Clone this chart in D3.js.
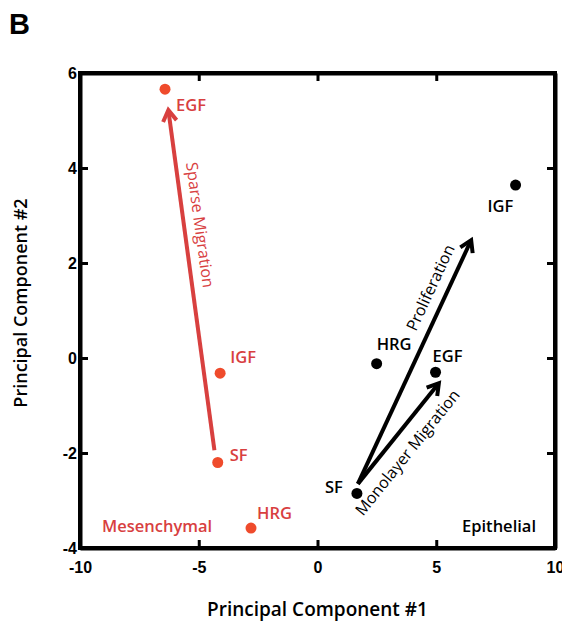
<!DOCTYPE html>
<html>
<head>
<meta charset="utf-8">
<script src="https://cdn.jsdelivr.net/npm/d3@7"></script>
<style>
  html, body { margin: 0; padding: 0; background: #fff; }
  svg { display: block; }
</style>
</head>
<body>
<svg id="chart" width="562" height="621"></svg>
<script>
// Mesenchymal cell line responses (principal component scores)
const mesLabels = ["EGF", "IGF", "SF", "HRG"];
const mesPC1 = [-6.42, -4.1, -4.2, -2.8];
const mesPC2 = [5.66, -0.32, -2.2, -3.58];

// Epithelial cell line responses
const epiLabels = ["SF", "HRG", "EGF", "IGF"];
const epiPC1 = [1.66, 2.49, 4.97, 8.34];
const epiPC2 = [-2.85, -0.12, -0.3, 3.64];

// Phenotype direction arrows: [start PC1, start PC2] -> [end PC1, end PC2]
const arrowNames = ["Sparse Migration", "Proliferation", "Monolayer Migration"];
const arrowStartPC1 = [-4.34, 1.7, 1.7];
const arrowStartPC2 = [-1.94, -2.65, -2.65];
const arrowEndPC1 = [-6.28, 6.47, 5.11];
const arrowEndPC2 = [5.22, 2.48, -0.53];

// Axis ticks
const xTicks = [-10, -5, 0, 5, 10];
const yTicks = [-4, -2, 0, 2, 4, 6];

const RED_DOT = "#ef4b2c";
const RED = "#d8403f";
const BLACK = "#000";

const svg = d3.select("#chart");
const plotLeft = 80, plotRight = 555, plotTop = 73, plotBottom = 548;

const x = d3.scaleLinear().domain([-10, 10]).range([plotLeft, plotRight]);
const y = d3.scaleLinear().domain([-4, 6]).range([plotBottom, plotTop]);

// Panel letter
svg.append("text")
  .attr("x", 9).attr("y", 34)
  .attr("font-family", "Liberation Sans, Arial, sans-serif")
  .attr("font-weight", "bold")
  .attr("font-size", 29)
  .text("B");

// Axes with inward ticks on all four sides
const plainNum = d => String(d);   // hyphen-minus for negative ticks
const tickFont = g => g.selectAll("text")
  .attr("font-family", "Liberation Sans, Arial, sans-serif")
  .attr("font-weight", "bold")
  .attr("font-size", 16)
  .attr("fill", "#000");

const styleAxis = g => {
  g.select(".domain").attr("stroke", "#000").attr("stroke-width", 4);
  g.selectAll(".tick line").attr("stroke", "#000").attr("stroke-width", 3);
};

svg.append("g")
  .attr("transform", `translate(0,${plotBottom})`)
  .call(d3.axisBottom(x).tickValues(xTicks).tickFormat(plainNum)
    .tickSizeInner(-8).tickSizeOuter(0).tickPadding(14))
  .call(styleAxis).call(tickFont);

svg.append("g")
  .attr("transform", `translate(0,${plotTop})`)
  .call(d3.axisTop(x).tickValues(xTicks).tickSizeInner(-8).tickSizeOuter(0).tickFormat(""))
  .call(styleAxis);

svg.append("g")
  .attr("transform", `translate(${plotLeft},0)`)
  .call(d3.axisLeft(y).tickValues(yTicks).tickFormat(plainNum)
    .tickSizeInner(-8).tickSizeOuter(0))
  .call(styleAxis).call(tickFont)
  .selectAll(".tick text").attr("x", -3);

svg.append("g")
  .attr("transform", `translate(${plotRight},0)`)
  .call(d3.axisRight(y).tickValues(yTicks).tickSizeInner(-8).tickSizeOuter(0).tickFormat(""))
  .call(styleAxis);

// Square corners for the frame
svg.append("rect")
  .attr("x", plotLeft).attr("y", plotTop)
  .attr("width", plotRight - plotLeft).attr("height", plotBottom - plotTop)
  .attr("fill", "none").attr("stroke", "#000").attr("stroke-width", 4)
  .attr("stroke-linejoin", "miter");

// Axis titles
const titleFont = "Open Sans, Noto Sans, sans-serif";
svg.append("text")
  .attr("x", (plotLeft + plotRight) / 2).attr("y", 616)
  .attr("text-anchor", "middle")
  .attr("font-family", titleFont).attr("font-size", 19).attr("font-weight", 600)
  .text("Principal Component #1");

svg.append("text")
  .attr("transform", `translate(27,303) rotate(-90)`)
  .attr("text-anchor", "middle")
  .attr("font-family", titleFont).attr("font-size", 18).attr("font-weight", 600)
  .text("Principal Component #2");

// Arrows
const arrowColors = [RED, BLACK, BLACK];
const labelAt = [0.656, 0.776, 0.43];     // position along arrow
const labelOffset = [16, -17, 19];         // perpendicular offset (px)

const arrows = arrowNames.map((name, i) => ({
  name,
  x1: x(arrowStartPC1[i]), y1: y(arrowStartPC2[i]),
  x2: x(arrowEndPC1[i]), y2: y(arrowEndPC2[i]),
  color: arrowColors[i], t: labelAt[i], off: labelOffset[i]
}));

const ag = svg.append("g");
arrows.forEach(a => {
  const ang = Math.atan2(a.y2 - a.y1, a.x2 - a.x1);
  const head = 13, spread = 0.55;
  ag.append("line")
    .attr("x1", a.x1).attr("y1", a.y1)
    .attr("x2", a.x2 - Math.cos(ang) * 2).attr("y2", a.y2 - Math.sin(ang) * 2)
    .attr("stroke", a.color).attr("stroke-width", 4);
  const p1 = [a.x2 - head * Math.cos(ang - spread), a.y2 - head * Math.sin(ang - spread)];
  const p2 = [a.x2 - head * Math.cos(ang + spread), a.y2 - head * Math.sin(ang + spread)];
  ag.append("path")
    .attr("d", `M${p1[0]},${p1[1]} L${a.x2},${a.y2} L${p2[0]},${p2[1]}`)
    .attr("fill", "none").attr("stroke", a.color).attr("stroke-width", 4)
    .attr("stroke-linejoin", "miter").attr("stroke-linecap", "butt");

  // label along the arrow, reading in the upward or downward direction
  let deg = ang * 180 / Math.PI;
  if (deg > 90) deg -= 180;
  if (deg < -90) deg += 180;
  const mx = a.x1 + (a.x2 - a.x1) * a.t;
  const my = a.y1 + (a.y2 - a.y1) * a.t;
  const nx = -Math.sin(ang), ny = Math.cos(ang);
  ag.append("text")
    .attr("transform", `translate(${mx + nx * a.off},${my + ny * a.off}) rotate(${deg})`)
    .attr("text-anchor", "middle")
    .attr("dy", "0.35em")
    .attr("font-family", titleFont).attr("font-size", 16)
    .attr("fill", a.color)
    .text(a.name);
});

// Points
const mes = mesLabels.map((l, i) => ({ l, px: mesPC1[i], py: mesPC2[i] }));
const epi = epiLabels.map((l, i) => ({ l, px: epiPC1[i], py: epiPC2[i] }));

svg.append("g").selectAll("circle").data(mes).join("circle")
  .attr("cx", d => x(d.px)).attr("cy", d => y(d.py)).attr("r", 5.5)
  .attr("fill", RED_DOT);

svg.append("g").selectAll("circle").data(epi).join("circle")
  .attr("cx", d => x(d.px)).attr("cy", d => y(d.py)).attr("r", 5.5)
  .attr("fill", BLACK);

// Point labels (offsets in px relative to each point, with anchor)
const mesLabelOff = { EGF: [11, 22, "start"], IGF: [10, -10, "start"], SF: [12, -2, "start"], HRG: [6, -9, "start"] };
const epiLabelOff = { SF: [-14, 0, "end"], HRG: [0, -14, "start"], EGF: [-3, -10, "start"], IGF: [-28, 27, "start"] };

const labelFont = g => g
  .attr("font-family", titleFont).attr("font-size", 16.5).attr("font-weight", 600);

svg.append("g").selectAll("text").data(mes).join("text")
  .attr("x", d => x(d.px) + mesLabelOff[d.l][0])
  .attr("y", d => y(d.py) + mesLabelOff[d.l][1])
  .attr("text-anchor", d => mesLabelOff[d.l][2])
  .call(labelFont)
  .attr("fill", RED)
  .text(d => d.l);

svg.append("g").selectAll("text").data(epi).join("text")
  .attr("x", d => x(d.px) + epiLabelOff[d.l][0])
  .attr("y", d => y(d.py) + epiLabelOff[d.l][1])
  .attr("text-anchor", d => epiLabelOff[d.l][2])
  .call(labelFont)
  .attr("fill", BLACK)
  .text(d => d.l);

// Region annotations
svg.append("text")
  .attr("x", 102).attr("y", 532)
  .call(labelFont)
  .attr("fill", RED).text("Mesenchymal");

svg.append("text")
  .attr("x", 536).attr("y", 532).attr("text-anchor", "end")
  .call(labelFont)
  .attr("fill", BLACK).text("Epithelial");
</script>
</body>
</html>
